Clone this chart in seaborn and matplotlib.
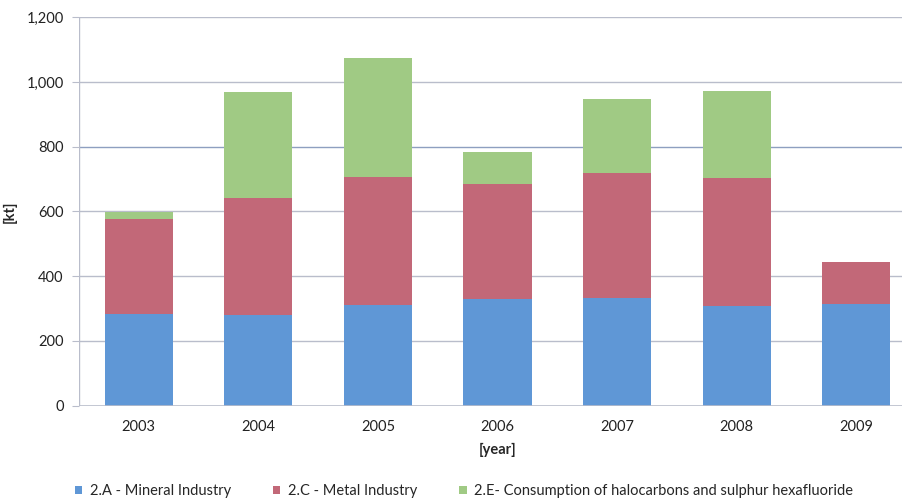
import matplotlib
matplotlib.use('Agg')
import matplotlib.pyplot as plt
from matplotlib.patches import Patch
import pandas as pd
import seaborn as sns

# Données (kt)
years = ['2003', '2004', '2005', '2006', '2007', '2008', '2009']
mineral = [284, 281, 312, 330, 334, 309, 313]
metal = [293, 361, 393, 356, 385, 393, 132]
halocarbons = [22, 328, 370, 99, 227, 271, 0]
series_labels = ['2.A - Mineral Industry', '2.C - Metal Industry',
                 '2.E- Consumption of halocarbons and sulphur hexafluoride']
colors = ['#5F97D6', '#C26878', '#A0CA84']

df = pd.DataFrame({'year': years, 'mineral': mineral, 'metal': metal, 'halo': halocarbons})
# cumuls pour l'empilement
df['c1'] = df['mineral']
df['c2'] = df['c1'] + df['metal']
df['c3'] = df['c2'] + df['halo']

sns.set_style('white')
plt.rcParams['font.family'] = ['Lato', 'DejaVu Sans']

W, H = 902, 499
fig = plt.figure(figsize=(W / 100, H / 100), dpi=100)
# l'axe dépasse le bord droit de l'image, comme dans l'original
ax_w = 837
ax = fig.add_axes([79 / W, 1 - 405.7 / H, ax_w / W, 388.5 / H])
ax.set_frame_on(False)

grid_col = '#B9BDCB'
for v in range(200, 1201, 200):
    ax.axhline(v, color='#8E9FC0' if v == 800 else grid_col, lw=1, zorder=0)
# lignes d'axe gauche et bas
ax.axhline(0, color=grid_col, lw=1.2, zorder=3)
ax.axvline(-0.5, color=grid_col, lw=1, zorder=3)

for col, c in zip(['c3', 'c2', 'c1'], colors[::-1]):
    sns.barplot(data=df, x='year', y=col, color=c, width=0.57, linewidth=0,
                saturation=1, ax=ax, zorder=2)

ax.set_ylim(0, 1200)
ax.set_xlim(-0.5, 6.5)
ax.set_yticks(range(0, 1201, 200))
ax.set_yticklabels([f'{v:,}' for v in range(0, 1201, 200)])
ax.tick_params(axis='y', left=True, right=False, length=5, color=grid_col, labelsize=10.5,
               labelcolor='#222222', pad=6)
ax.tick_params(axis='x', length=0, labelsize=10.5, labelcolor='#222222', pad=10)
ax.set_xlabel('[year]', fontsize=10.5, fontweight='bold', labelpad=7)
ax.set_ylabel('[kt]', fontsize=10.5, fontweight='bold')
ax.yaxis.set_label_coords(-62 / ax_w, 0.5)

handles = [Patch(facecolor=c, edgecolor='none') for c in colors]
fig.legend(handles, series_labels, ncol=3, loc='center left', bbox_to_anchor=(62 / W, 1 - 491 / H),
           frameon=False, fontsize=10.5, handlelength=0.5, handleheight=0.5, handletextpad=0.5,
           columnspacing=2.9)

fig.savefig('out.png', dpi=100)
